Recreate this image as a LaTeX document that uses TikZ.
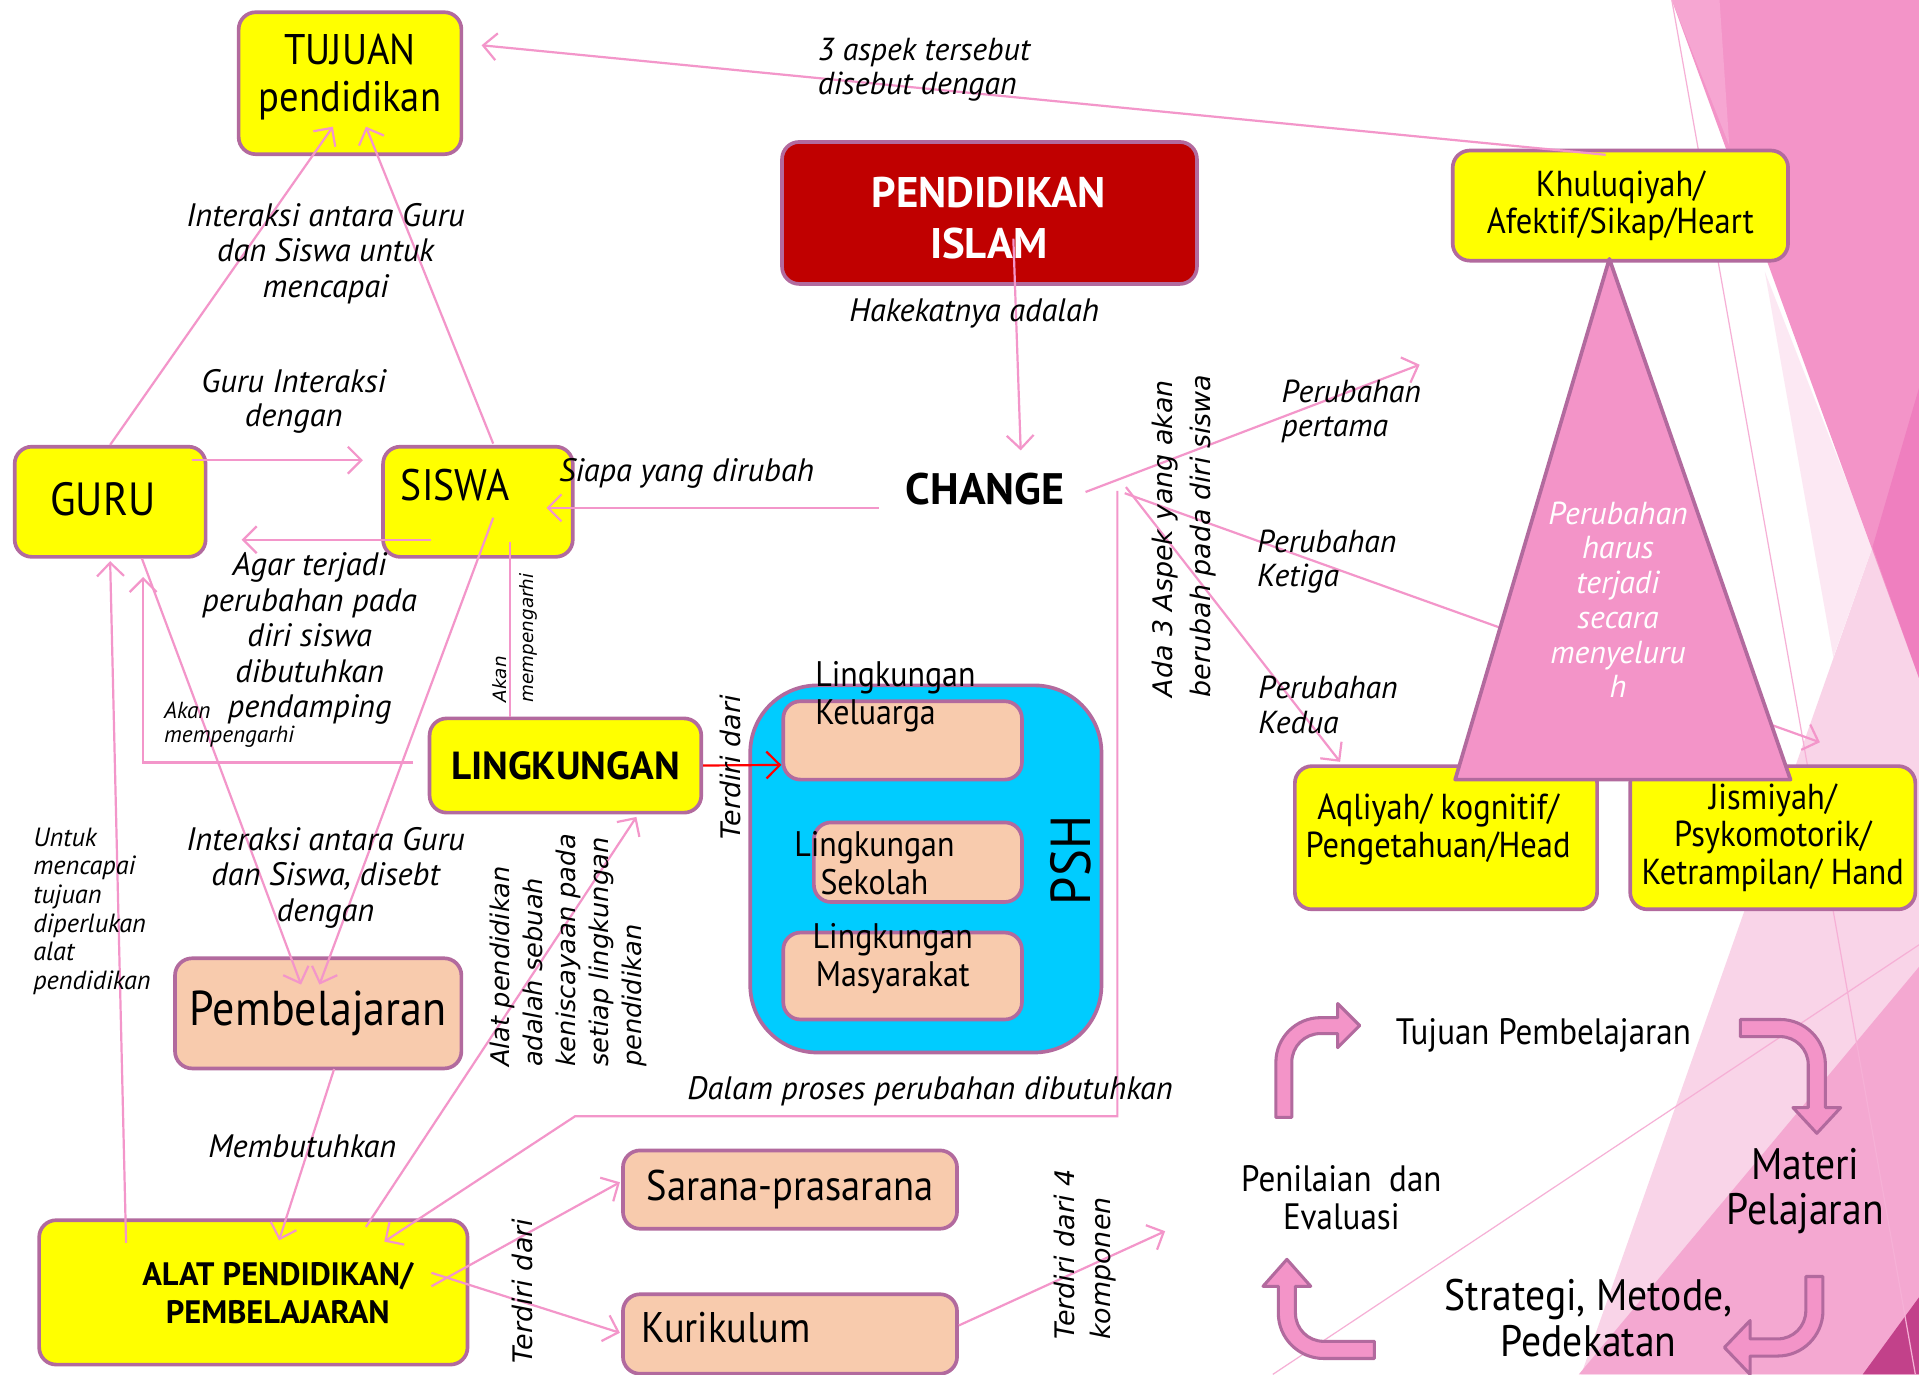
\documentclass[tikz,border=0pt]{standalone}
\usepackage{fontspec}
\setmainfont{PT Sans}[UprightFeatures={FakeStretch=0.9}]
\newfontfamily\vfont{DejaVu Sans}
\usetikzlibrary{arrows.meta,calc}
\definecolor{kuning}{RGB}{255,255,0}
\definecolor{bingkai}{RGB}{178,106,158}
\definecolor{peach}{RGB}{248,203,173}
\definecolor{merah}{RGB}{192,0,0}
\definecolor{biru}{RGB}{0,204,255}
\definecolor{garis}{RGB}{243,150,202}
\definecolor{pinkbg}{RGB}{243,148,200}
\definecolor{pinkmuda}{RGB}{246,166,210}
\definecolor{pinktua}{RGB}{239,127,191}
\definecolor{pinklembut}{RGB}{249,212,232}
\definecolor{pinkputih}{RGB}{252,232,243}
\definecolor{pinksedang}{RGB}{244,168,209}
\definecolor{magenta}{RGB}{194,65,138}
\definecolor{garistipis}{RGB}{246,176,214}
\newcommand\fsz[2]{\fontsize{#1pt}{#2pt}\selectfont}

\begin{document}
\begin{tikzpicture}[x=1pt,y=-1pt,
    box/.style={draw=bingkai,line width=3pt,rounded corners=14pt,inner sep=0pt,align=center},
    ybox/.style={box,fill=kuning},
    pbox/.style={box,fill=peach},
    txt/.style={inner sep=0pt,align=center},
    lbl/.style={txt,font=\itshape\fsz{26.5}{29}},
    rlbl/.style={inner sep=0pt,align=left,rotate=90,anchor=west},
    con/.style={draw=garis,line width=1.8pt,-{Straight Barb[length=11pt,width=22pt,line width=1.8pt]}},
    putar/.style={draw=bingkai,line width=2.5pt,fill=pinkbg,line join=round}]
  \fill[white] (0,0) rectangle (1568,1123);
  \useasboundingbox (0,0) rectangle (1568,1123);
  % latar kanan
  \fill[pinklembut] (1530,447) -- (1568,554) -- (1568,1123) -- (1292,1123) -- cycle;
  \fill[pinkputih] (1442,222) -- (1530,447) -- (1498,537) -- cycle;
  \fill[pinkbg] (1366,0) -- (1568,0) -- (1568,554) -- cycle;
  \fill[pinkmuda] (1366,0) -- (1405,0) -- (1413,119) -- cycle;
  \fill[pinktua] (1568,317) -- (1530,447) -- (1568,554) -- cycle;
  \fill[pinksedang] (1568,790) -- (1568,1123) -- (1290,1123) -- cycle;
  \fill[magenta] (1568,1060) -- (1568,1123) -- (1522,1123) -- cycle;
  \draw[garistipis,line width=1pt] (1366,0) -- (1565,1123);
  \draw[garistipis,line width=1pt] (1040,1123) -- (1568,772);

  % kotak
  \node[ybox,minimum width=182pt,minimum height=116pt] (tujuan) at (286,68) {};
  \node[txt,font=\fsz{35}{39}] (tujuantxt) at (286,63) {TUJUAN\\pendidikan};
  \node[box,fill=merah,minimum width=339pt,minimum height=116pt] (islam) at (808.5,174) {};
  \node[txt,text=white,font=\bfseries\fsz{35}{42}] (islamtxt) at (808,178) {PENDIDIKAN\\ISLAM};
  \node[ybox,font=\fsz{29.5}{30},minimum width=274pt,minimum height=90pt] (khuluq) at (1324,168) {Khuluqiyah/\\Afektif/Sikap/Heart};
  \node[ybox,minimum width=156pt,minimum height=90pt] (guru) at (90,410) {};
  \node[txt,font=\fsz{38}{40}] (gurutxt) at (84,408) {GURU};
  \node[ybox,minimum width=155pt,minimum height=90pt] (siswa) at (390.5,410) {};
  \node[txt,font=\fsz{36}{40}] (siswatxt) at (372,396) {SISWA};
  \node[txt,font=\bfseries\fsz{36}{40}] (change) at (805,400) {CHANGE};
  \node[ybox,font=\bfseries\fsz{32}{36},minimum width=222pt,minimum height=77pt] (lingk) at (462,625.5) {LINGKUNGAN};
  \node[box,fill=biru,rounded corners=55pt,minimum width=287pt,minimum height=300pt] (psh) at (756.5,710) {};
  \node[txt,font=\fsz{46}{50},rotate=90] (pshtxt) at (875,703) {PSH};
  \node[pbox,minimum width=195pt,minimum height=64pt] (kel) at (737.5,605) {};
  \node[pbox,minimum width=170pt,minimum height=65pt] (sek) at (750,704.5) {};
  \node[pbox,minimum width=195pt,minimum height=71pt] (mas) at (737.5,797.5) {};
  \node[txt,font=\fsz{29}{31},align=left,anchor=west] (keltxt) at (666,569.5) {Lingkungan\\Keluarga};
  \node[txt,font=\fsz{29}{31}] (sektxt) at (714.5,705) {Lingkungan\\Sekolah};
  \node[txt,font=\fsz{29}{31}] (mastxt) at (729.5,783) {Lingkungan\\Masyarakat};
  \node[pbox,font=\fsz{40}{44},minimum width=234pt,minimum height=90pt] (pemb) at (260,828) {Pembelajaran};
  \node[ybox,minimum width=350pt,minimum height=118pt] (alat) at (207,1056) {};
  \node[txt,font=\bfseries\fsz{26.5}{31}] (alattxt) at (227,1056.5) {ALAT PENDIDIKAN/\\PEMBELAJARAN};
  \node[pbox,font=\fsz{35}{36},minimum width=273pt,minimum height=64pt] (sarana) at (645.5,972) {Sarana-prasarana};
  \node[pbox,minimum width=273pt,minimum height=65pt] (kuri) at (645.5,1090) {};
  \node[txt,font=\fsz{35}{36},anchor=west] (kuritxt) at (524,1085) {Kurikulum};
  \node[ybox,minimum width=247pt,minimum height=117pt] (aqli) at (1181.5,684.5) {};
  \node[txt,font=\fsz{29.5}{31}] (aqlitxt) at (1175,677.5) {Aqliyah/ kognitif/\\Pengetahuan/Head};
  \node[ybox,font=\fsz{29.5}{31},minimum width=233pt,minimum height=117pt] (jism) at (1448.5,684.5) {Jismiyah/\\Psykomotorik/\\Ketrampilan/ Hand};

  % panah
  \draw[con] ($(khuluq.north)+(-12,5)$) -- ($(tujuan.east)+(15,-31)$);
  \draw[con] ($(islam.center)+(19.5,21)$) -- ($(change.center)+(29,-32)$);
  \draw[con] ($(change.center)+(-87,15)$) -- ($(siswa.east)+(-23,5)$);
  \draw[con] ($(guru.east)+(-13,-34)$) -- ($(siswa.west)+(-15,-34)$);
  \draw[con] ($(siswa.center)+(-38.5,31)$) -- ($(guru.east)+(28,31)$);
  \draw[con] (guru.north) -- ($(tujuan.south)+(-14,-24)$);
  \draw[con] ($(siswa.north)+(12.5,-1)$) -- ($(tujuan.south)+(13,-24)$);
  \draw[con] ($(guru.south)+(26,0)$) -- ($(pemb.north)+(-14,23)$);
  \draw[con] ($(siswa.center)+(12.5,13)$) -- ($(pemb.north)+(1,23)$);
  \draw[con] ($(lingk.west)+(-12,-2.5)$) -| ($(guru.south)+(27,15)$);
  \draw[con,-] ($(siswa.south)+(26.5,-14)$) -- ($(lingk.north)+(-45,0)$);
  \draw[con] ($(alat.north)+(-104,20)$) -- ($(guru.south)+(0,2)$);
  \draw[con] ($(pemb.south)+(13,-1)$) -- ($(alat.north)+(21,18)$);
  \draw[con] ($(alat.north)+(92,7)$) -- ($(lingk.south)+(58,2)$);
  \coordinate (dalam) at (470,912);
  \draw[con] ($(change.center)+(108,1)$) |- (dalam) -- ($(alat.north)+(107,19)$);
  \draw[con,draw=red] (lingk.east) -- ($(kel.west)+(0,20)$);
  \draw[con] ($(alat.east)+(-31,-5)$) -- ($(sarana.west)+(-1,-6)$);
  \draw[con] ($(alat.east)+(-31,-16)$) -- ($(kuri.west)+(-1,-1)$);
  \coordinate (komp) at (952,1006);
  \draw[con] ($(kuri.east)+(0,-7)$) -- (komp);
  \coordinate (pertama) at (1160,298);
  \draw[con] ($(change.center)+(82,2)$) -- (pertama);
  \draw[con] ($(change.center)+(114,3)$) -- ($(jism.north)+(38.5,-18)$);
  \draw[con] ($(change.center)+(115,-2)$) -- ($(aqli.north)+(-86.5,-2)$);

  % segitiga
  \coordinate (tA) at ($(khuluq.south)+(-9,-3)$);
  \coordinate (tB) at (1463,637);
  \coordinate (tC) at (1189,637);
  \draw[bingkai,line width=3pt,fill=pinkbg,line join=round] (tA) -- (tB) -- (tC) -- cycle;
  \node[txt,font=\itshape\fsz{26}{28.4},text=white] (tritxt) at (1322,490) {Perubahan\\harus\\terjadi\\secara\\menyeluru\\h};

  % siklus
  \draw[putar] (1042.5,913) -- (1042.5,868) .. controls (1042.5,847.9) and (1058.9,831.5) .. (1079,831.5)
    -- (1093,831.5) -- (1093,820) -- (1111,838) -- (1093,856) -- (1093,844.5) -- (1079,844.5)
    .. controls (1066,844.5) and (1055.5,855) .. (1055.5,868) -- (1055.5,913) -- cycle;
  \draw[putar] (1422,833) -- (1454.5,833) .. controls (1474.9,833) and (1491.5,849.6) .. (1491.5,870)
    -- (1491.5,905) -- (1504,905) -- (1484.5,926) -- (1465,905) -- (1477.5,905) -- (1477.5,870)
    .. controls (1477.5,857.3) and (1467.2,847) .. (1454.5,847) -- (1422,847) -- cycle;
  \draw[putar] (1475.5,1043) -- (1489.5,1043) -- (1489.5,1071) .. controls (1489.5,1091.4) and (1472.9,1108) .. (1452.5,1108)
    -- (1430,1108) -- (1430,1123) -- (1409,1101) -- (1430,1079) -- (1430,1094) -- (1452.5,1094)
    .. controls (1465.2,1094) and (1475.5,1083.7) .. (1475.5,1071) -- cycle;
  \draw[putar] (1123,1096) -- (1081.5,1096) .. controls (1068.8,1096) and (1058.5,1085.7) .. (1058.5,1073)
    -- (1058.5,1051) -- (1071,1051) -- (1051.5,1029) -- (1032,1051) -- (1044.5,1051) -- (1044.5,1073)
    .. controls (1044.5,1093.4) and (1061.1,1110) .. (1081.5,1110) -- (1123,1110) -- cycle;
  \node[txt,font=\fsz{30}{31}] (ctujuan) at (1261,846) {Tujuan Pembelajaran};
  \node[txt,font=\fsz{30}{31}] (cnilai) at (1096,978.5) {Penilaian~ dan\\Evaluasi};
  \node[txt,font=\fsz{36}{37}] (cmateri) at (1475,973.5) {Materi\\Pelajaran};
  \node[txt,font=\fsz{36}{37}] (cstrategi) at (1298,1077) {Strategi, Metode,\\Pedekatan};

  % label
  \node[lbl,align=left,anchor=west,font=\itshape\fsz{26}{28}] (laspek) at (668,57) {3 aspek tersebut\\disebut dengan};
  \node[lbl] (lhakekat) at (796,256) {Hakekatnya adalah};
  \node[lbl] (lsiapa) at (561,387) {Siapa yang dirubah};
  \node[lbl,font=\itshape\fsz{26.5}{28}] (lguru) at (240,328) {Guru Interaksi\\dengan};
  \node[lbl] (lagar) at (253,522) {Agar terjadi\\perubahan pada\\diri siswa\\dibutuhkan\\pendamping};
  \node[lbl] (lcapai) at (266,207) {Interaksi antara Guru\\dan Siswa untuk\\mencapai};
  \node[lbl] (lsebut) at (266,717) {Interaksi antara Guru\\dan Siswa, disebt\\dengan};
  \node[lbl,align=left,anchor=west,font=\itshape\fsz{19}{20}] (lakan) at (134,592) {Akan\\mempengarhi};
  \node[lbl,align=left,anchor=west,font=\itshape\fsz{21.5}{23.4}] (luntuk) at (27,744.5) {Untuk\\mencapai\\tujuan\\diperlukan\\alat\\pendidikan};
  \node[lbl] (lbutuh) at (247,937) {Membutuhkan};
  \node[lbl] (ldalam) at (760,892) {Dalam proses perubahan dibutuhkan};
  \node[lbl,align=left,anchor=west,font=\itshape\fsz{26}{28}] (lpertama) at (1047,336) {Perubahan\\pertama};
  \node[lbl,align=left,anchor=west,font=\itshape\fsz{26}{28}] (lketiga) at (1027,459) {Perubahan\\Ketiga};
  \node[lbl,align=left,anchor=west,font=\itshape\fsz{26}{28}] (lkedua) at (1028,576) {Perubahan\\Kedua};
  \node[rlbl,font=\vfont\itshape\fsz{22}{31}] (lada) at (967.5,570) {Ada 3 Aspek yang akan\\berubah pada diri siswa};
  \node[rlbl,font=\vfont\itshape\fsz{15}{22}] (lakan2) at (421,574) {Akan\\mempengarhi};
  \node[rlbl,font=\vfont\itshape\fsz{21}{27}] (lalat) at (464.5,872) {Alat pendidikan\\adalah sebuah\\keniscayaan pada\\setiap lingkungan\\pendidikan};
  \node[txt,rotate=90,font=\vfont\itshape\fsz{22}{26}] (lterdiri) at (597,627) {Terdiri dari};
  \node[txt,rotate=90,font=\vfont\itshape\fsz{22}{26}] (lterdiri2) at (427,1055) {Terdiri dari};
  \node[rlbl,font=\vfont\itshape\fsz{22}{29}] (lempat) at (886.5,1095) {Terdiri dari 4\\komponen};
\end{tikzpicture}
\end{document}
